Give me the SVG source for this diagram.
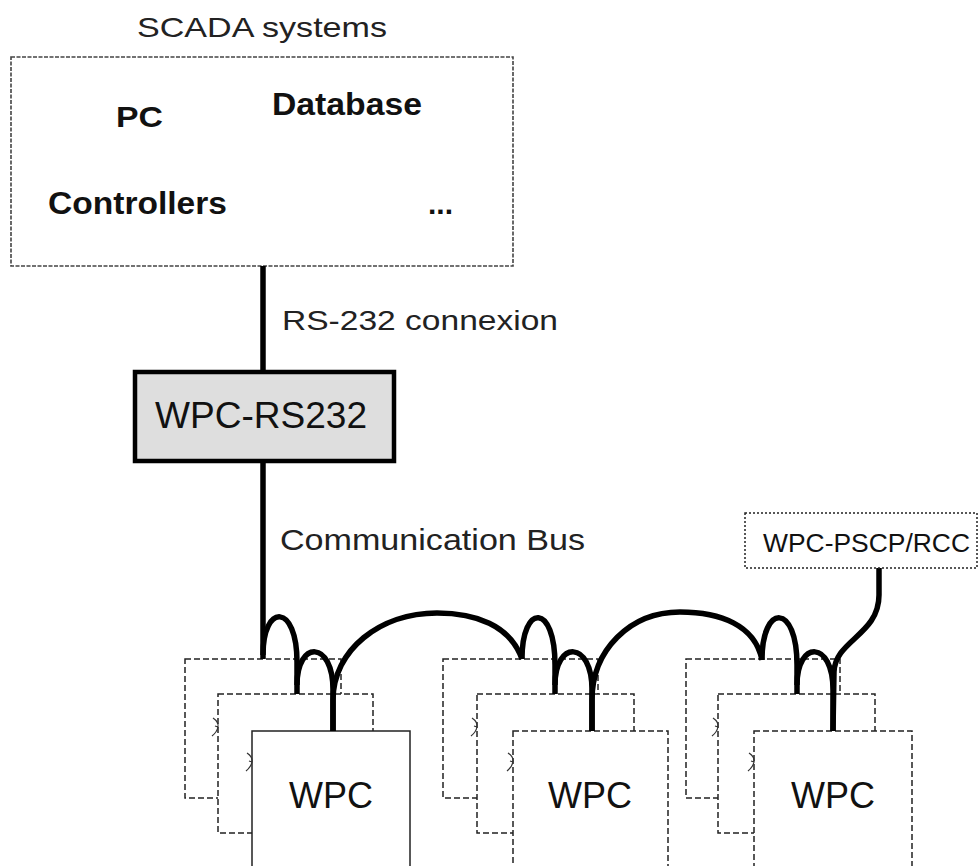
<svg xmlns="http://www.w3.org/2000/svg" width="980" height="866" viewBox="0 0 980 866">
<style>
text{font-family:"Liberation Sans",Arial,sans-serif;fill:#111}
.b{font-weight:bold}
.dash{fill:#fff;stroke:#222;stroke-width:1.5;stroke-dasharray:6 3}
.solid{fill:#fff;stroke:#222;stroke-width:1.5}
.wire{fill:none;stroke:#000;stroke-width:5.5;stroke-linecap:butt}
.mark{fill:none;stroke:#333;stroke-width:1.2}
</style>
<rect width="980" height="866" fill="#fff"/>

<g id="scada">
<text x="262" y="37" font-size="28" text-anchor="middle" textLength="250" lengthAdjust="spacingAndGlyphs" style="fill:#222">SCADA systems</text>
<rect x="11" y="57" width="502" height="209" fill="#fff" stroke="#444" stroke-width="1.6" stroke-dasharray="4 1.5"/>
<text class="b" x="116" y="127" font-size="30" textLength="47" lengthAdjust="spacingAndGlyphs">PC</text>
<text class="b" x="272" y="115" font-size="31" textLength="150" lengthAdjust="spacingAndGlyphs">Database</text>
<text class="b" x="48" y="214" font-size="31" textLength="179" lengthAdjust="spacingAndGlyphs">Controllers</text>
<text class="b" x="428" y="214" font-size="30">...</text>
</g>

<g id="wpc1">
<rect class="dash" x="185" y="659" width="156" height="139"/>
<rect class="dash" x="218" y="694" width="155" height="139"/>
<rect class="solid" x="252" y="731" width="158" height="145"/>
<path class="mark" d="M213,718 Q219,722 218,727 Q217,732 212,736 M218,727 L215,726"/>
<path class="mark" d="M247,753 Q253,757 252,762 Q251,767 246,771 M252,762 L249,761"/>
<text x="331" y="808" font-size="36" text-anchor="middle">WPC</text>
</g>

<g id="wpc2">
<rect class="dash" x="443" y="659" width="155" height="139"/>
<rect class="dash" x="477" y="694" width="157" height="139"/>
<rect class="dash" x="513" y="731" width="155" height="145"/>
<path class="mark" d="M472,718 Q478,722 477,727 Q476,732 471,736 M477,727 L474,726"/>
<path class="mark" d="M508,753 Q514,757 513,762 Q512,767 507,771 M513,762 L510,761"/>
<text x="590" y="808" font-size="36" text-anchor="middle">WPC</text>
</g>

<g id="wpc3">
<rect class="dash" x="686" y="659" width="154" height="139"/>
<rect class="dash" x="718" y="694" width="157" height="139"/>
<rect class="dash" x="754" y="731" width="158" height="145"/>
<path class="mark" d="M713,718 Q719,722 718,727 Q717,732 712,736 M718,727 L715,726"/>
<path class="mark" d="M749,753 Q755,757 754,762 Q753,767 748,771 M754,762 L751,761"/>
<text x="833" y="808" font-size="36" text-anchor="middle">WPC</text>
</g>

<g id="connectors">
<path class="wire" d="M263,266 V659"/>
<path class="wire" d="M263,655 C263,603 297,603 297,662 V694"/>
<path class="wire" d="M297,685 C297,640 333,640 333,690 V731"/>
<path class="wire" d="M333,731 V700 C333,650 380,613 437,613 C475,613 510,625 522,659"/>
<path class="wire" d="M522,659 C522,603 555,603 555,665 V694"/>
<path class="wire" d="M555,685 C555,640 592,640 592,690 V731"/>
<path class="wire" d="M592,731 V700 C592,650 630,612 680,612 C720,612 755,625 762,660"/>
<path class="wire" d="M762,660 C762,603 797,603 797,665 V694"/>
<path class="wire" d="M797,685 C797,640 833,640 833,690 V731"/>
<path class="wire" d="M879,568 V595 C879,635 835,640 834,672 L833,731"/>
</g>

<g id="labels">
<text x="282" y="330" font-size="28" textLength="276" lengthAdjust="spacingAndGlyphs" style="fill:#222">RS-232 connexion</text>
<text x="280" y="550" font-size="29" textLength="305" lengthAdjust="spacingAndGlyphs" style="fill:#222">Communication Bus</text>
</g>

<g id="wpc-rs232">
<rect x="135" y="372" width="259" height="89" fill="#dedede" stroke="#000" stroke-width="4.5"/>
<text x="261" y="428" font-size="36" text-anchor="middle" textLength="212" lengthAdjust="spacingAndGlyphs">WPC-RS232</text>
</g>

<g id="wpc-pscp">
<rect x="745" y="513" width="232" height="55" fill="#fff" stroke="#222" stroke-width="1.5" stroke-dasharray="2 2"/>
<text x="763" y="552" font-size="25" textLength="207" lengthAdjust="spacingAndGlyphs">WPC-PSCP/RCC</text>
</g>
</svg>
